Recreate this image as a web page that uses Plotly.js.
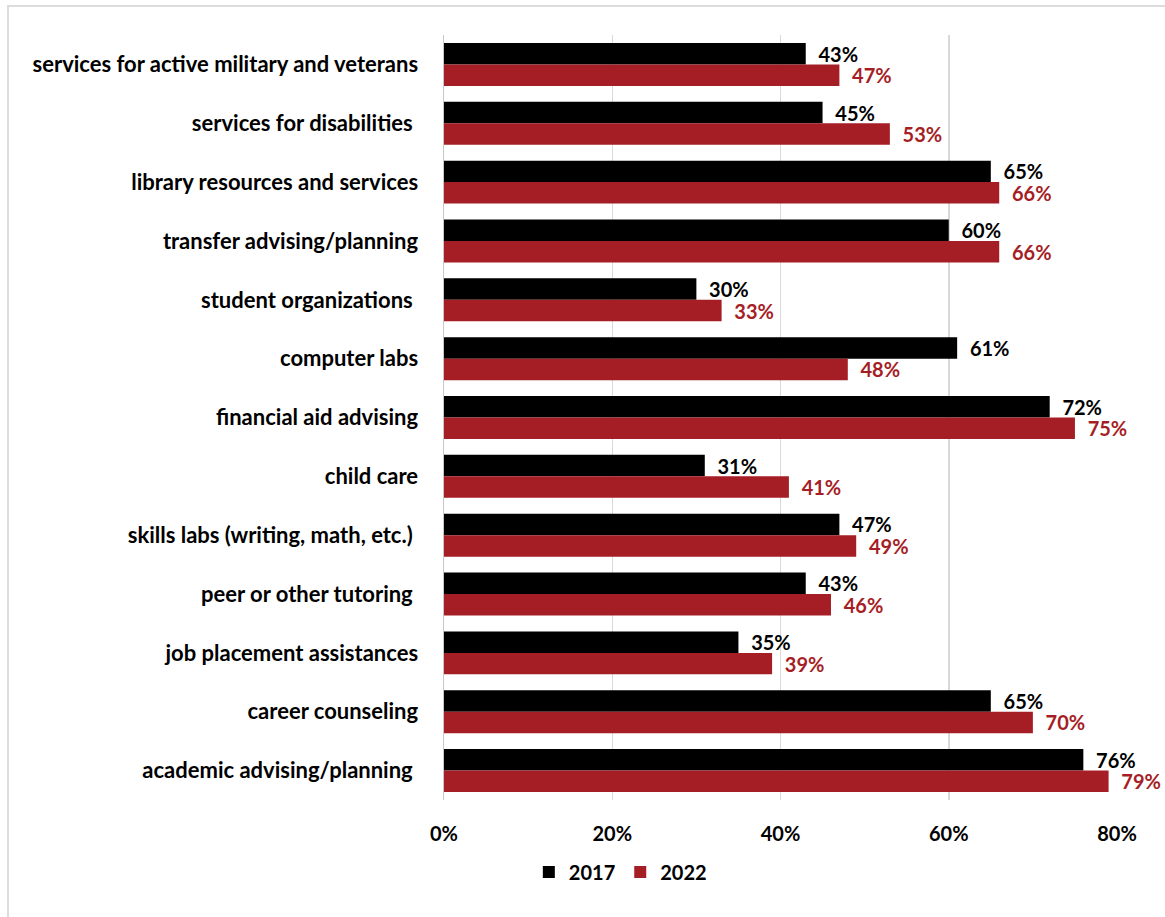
<!DOCTYPE html>
<html>
<head>
<meta charset="utf-8">
<script src="https://cdn.plot.ly/plotly-3.0.1.min.js"></script>
<style>
html,body{margin:0;padding:0;background:#fff;overflow:hidden;}
#wrap{position:relative;width:1165px;height:917px;overflow:hidden;}
#frame{position:absolute;left:7px;top:5px;width:1300px;height:1100px;border:2px solid #dcdcdc;box-sizing:border-box;pointer-events:none;z-index:5;}
#chart{position:absolute;left:0;top:0;width:1165px;height:917px;}
</style>
</head>
<body>
<div id="wrap"><div id="chart"></div><div id="frame"></div></div>
<script>
const categories = [
  "services for active military and veterans",
  "services for disabilities\u00a0",
  "library resources and services",
  "transfer advising/planning",
  "student organizations\u00a0",
  "computer labs",
  "financial aid advising",
  "child care",
  "skills labs (writing, math, etc.)\u00a0",
  "peer or other tutoring\u00a0",
  "job placement assistances",
  "career counseling",
  "academic advising/planning\u00a0"
];
const values2017 = [43, 45, 65, 60, 30, 61, 72, 31, 47, 43, 35, 65, 76];
const values2022 = [47, 53, 66, 66, 33, 48, 75, 41, 49, 46, 39, 70, 79];
const seriesNames = ["2017", "2022"];

const black = "#000000";
const red = "#A61E25";
const fontFam = "Lato, 'Open Sans', sans-serif";

function mk(vals, name, color) {
  return {
    type: "bar",
    orientation: "h",
    name: name,
    y: categories,
    x: vals.map(v => v / 100),
    marker: {color: color, line: {color: color, width: 0}},
    text: vals.map(v => "\u00a0\u00a0" + v + "%"),
    textposition: "outside",
    constraintext: "none",
    cliponaxis: false,
    textfont: {family: fontFam, size: 20, color: color, weight: 700},
    hoverinfo: "x+y"
  };
}

const data = [mk(values2017, seriesNames[0], black), mk(values2022, seriesNames[1], red)];

const layout = {
  width: 1165,
  height: 917,
  margin: {l: 444, r: 48, t: 35, b: 117},
  barmode: "group",
  bargap: 0.27,
  bargroupgap: 0,
  paper_bgcolor: "#ffffff",
  plot_bgcolor: "#ffffff",
  font: {family: fontFam, size: 20, color: "#000", weight: 700},
  xaxis: {
    range: [0, 0.8],
    tickvals: [0, 0.2, 0.4, 0.6, 0.8],
    tickformat: ".0%",
    showgrid: true,
    gridcolor: "#d9d9d9",
    gridwidth: 1.5,
    zeroline: false,
    showline: false,
    ticks: "",
    ticklabelstandoff: 20,
    tickfont: {family: fontFam, size: 20, color: "#000", weight: 700},
    fixedrange: true
  },
  yaxis: {
    type: "category",
    autorange: "reversed",
    showline: true,
    linecolor: "#c8c8c8",
    linewidth: 1.5,
    ticks: "",
    ticklabelstandoff: 20,
    tickfont: {family: fontFam, size: 22, color: "#000", weight: 700},
    fixedrange: true
  },
  showlegend: true,
  legend: {
    orientation: "h",
    x: 0.262,
    xanchor: "center",
    y: -0.094,
    yanchor: "middle",
    font: {family: fontFam, size: 20, color: "#000", weight: 700},
    itemwidth: 30,
    traceorder: "normal"
  }
};

Plotly.newPlot("chart", data, layout, {displayModeBar: false, staticPlot: true});
</script>
</body>
</html>
